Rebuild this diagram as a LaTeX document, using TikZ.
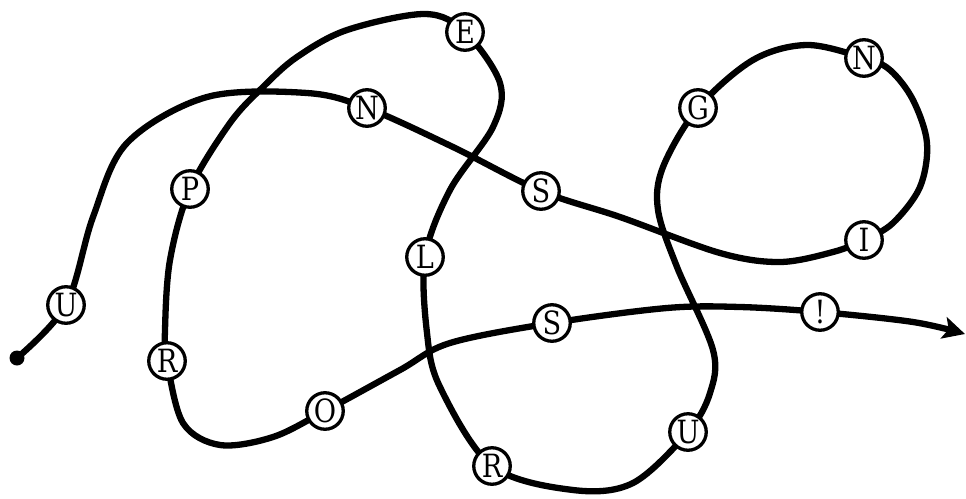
\documentclass[tikz,border=0pt]{standalone}
\usepackage{fontspec}
\setmainfont{DejaVu Serif}[FakeStretch=0.85]
\usetikzlibrary{arrows.meta}
\pgfdeclarelayer{bg}
\pgfsetlayers{bg,main}
\begin{document}
\begin{tikzpicture}[x=1pt,y=-1pt,
  letter/.style={circle,draw=black,line width=3.3pt,fill=white,minimum size=36.5pt,inner sep=0pt,font=\fontsize{32}{32}\selectfont},
  trail/.style={line width=6.3pt,line cap=round,line join=round},
  startdot/.style={circle,fill=black,minimum size=15pt,inner sep=0pt}]
\useasboundingbox (0,0) rectangle (966,498);
\node[startdot] (start) at (17,358) {};
\node[letter] (u1) at (66,305) {U};
\node[letter] (n1) at (367,108) {N};
\node[letter] (s1) at (541,191) {S};
\node[letter] (i) at (864,240) {I};
\node[letter] (n2) at (864,58) {N};
\node[letter] (g) at (698,108) {G};
\node[letter] (u2) at (688,432) {U};
\node[letter] (r2) at (492,466) {R};
\node[letter] (l) at (425,257) {L};
\node[letter] (e) at (465,32) {E};
\node[letter] (p) at (190,189) {P};
\node[letter] (r1) at (167,361) {R};
\node[letter] (o) at (325,411) {O};
\node[letter] (s2) at (552,323) {S};
\node[letter] (ex) at (820,312) {!};
\coordinate (end) at (965,334);
\begin{pgfonlayer}{bg}
\draw[trail,-{Stealth[length=22pt,width=22pt,inset=5pt]}] plot[smooth,tension=0.55] coordinates {
  (start.center) (u1.center) (93,217) (127,143) (207,97) (307,93) (n1.center)
  (453,147) (s1.center) (620,217) (720,253) (780,262) (833,252) (i.center)
  (893,223) (920,187) (927,143) (913,100) (890,70) (n2.center) (807,45) (753,60)
  (g.center) (663,167) (658,210) (677,267) (713,350) (710,393) (u2.center)
  (633,483) (573,490) (r2.center) (440,387) (427,333) (l.center)
  (450,190) (493,127) (500,83) (e.center) (425,14) (347,30) (297,57)
  (263,87) (230,123) (p.center) (170,260) (165,330) (r1.center)
  (183,423) (220,445) (273,437) (o.center) (400,370) (450,343)
  (s2.center) (667,308) (740,307) (ex.center) (913,322) (end)};
\end{pgfonlayer}
\end{tikzpicture}
\end{document}
